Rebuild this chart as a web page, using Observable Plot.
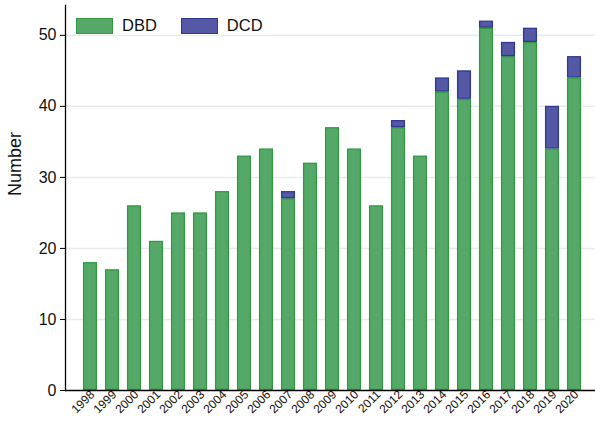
<!DOCTYPE html>
<html><head><meta charset="utf-8">
<script src="https://cdn.jsdelivr.net/npm/d3@7"></script>
<script src="https://cdn.jsdelivr.net/npm/@observablehq/plot@0.6"></script>
<style>
body{margin:0;background:#fff;font-family:"Liberation Sans",Arial,sans-serif;}
#wrap{position:relative;width:596px;height:421px;}
#legend{position:absolute;left:76px;top:16px;height:19px;display:flex;align-items:center;background:#fff;padding:0 9px 0 0;font-size:16.5px;color:#111;}
.sw{width:35px;height:14px;display:inline-block;margin-right:9px;}
.item{display:flex;align-items:center;}
.item+.item{margin-left:24px;}
</style></head><body>
<div id="wrap"><div id="legend"></div></div>
<script>
const years = ["1998","1999","2000","2001","2002","2003","2004","2005","2006","2007","2008","2009","2010","2011","2012","2013","2014","2015","2016","2017","2018","2019","2020"];
const dbd = [18,17,26,21,25,25,28,33,34,27,32,37,34,26,37,33,42,41,51,47,49,34,44];
const dcd = [0,0,0,0,0,0,0,0,0,1,0,0,0,0,1,0,2,4,1,2,2,6,3];
const seriesNames = ["DBD","DCD"];
const fills = ["#55a868","#5558a5"];
const strokes = ["#2f9a3f","#2e3a92"];

const rows = [];
years.forEach((y,i)=>{
  rows.push({year:y, type:"DBD", value:dbd[i]});
  rows.push({year:y, type:"DCD", value:dcd[i]});
});

const chart = Plot.plot({
  width:596, height:421,
  marginTop:5, marginBottom:31, marginLeft:65, marginRight:1,
  style:{fontFamily:"'Liberation Sans', Arial, sans-serif", background:"#fff"},
  x:{domain:years, range:[76.4,587.7], paddingInner:0.36, paddingOuter:0.3, label:null},
  y:{domain:[0,54.2], label:null},
  color:{domain:seriesNames, range:fills},
  marks:[
    Plot.gridY([10,20,30,40,50], {stroke:"#e6ebef", strokeOpacity:1, strokeWidth:1.5}),
    Plot.barY(rows.filter(d=>d.value>0), Plot.stackY({
      x:"year", y:"value", fill:"type", order:seriesNames,
      stroke: d=> strokes[seriesNames.indexOf(d.type)], strokeWidth:1.3, inset:0.6
    })),
    Plot.axisY([0,10,20,30,40,50], {tickSize:5, tickPadding:4, fontSize:16, fill:"#111", label:null}),
    Plot.axisX({tickSize:0, tickPadding:2, tickRotate:-45, fontSize:12, dx:2, fill:"#111", label:null}),
    Plot.ruleY([0], {stroke:"#000", strokeWidth:1.3}),
    Plot.frame({anchor:"left", stroke:"#000", strokeWidth:1.3}),
    Plot.text(["Number"], {frameAnchor:"left", dx:-50, dy:-2, rotate:-90, fontSize:18, fill:"#111"})
  ]
});
const wrap = document.getElementById("wrap");
wrap.insertBefore(chart, wrap.firstChild);

const lg = document.getElementById("legend");
seriesNames.forEach((n,i)=>{
  const it = document.createElement("div"); it.className="item";
  const sw = document.createElement("span"); sw.className="sw";
  sw.style.background = fills[i]; sw.style.border = "1.3px solid "+strokes[i];
  it.appendChild(sw);
  const t = document.createElement("span"); t.textContent = n; it.appendChild(t);
  lg.appendChild(it);
});
</script>
</body></html>
